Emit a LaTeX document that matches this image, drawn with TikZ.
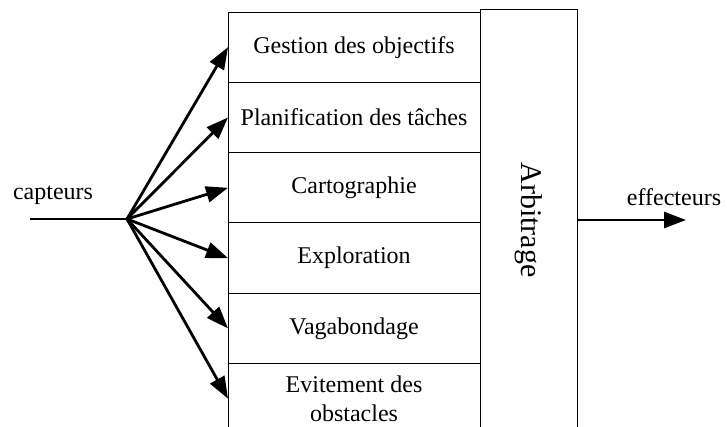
\documentclass[tikz,border=0pt]{standalone}
\usepackage{fontspec}
\setmainfont{Liberation Serif}
\usetikzlibrary{positioning,arrows.meta}
\tikzset{
    module/.style={rectangle, draw=black, line width=1pt, minimum width=252pt, minimum height=70.3pt, inner sep=0pt, outer sep=0pt, text centered, align=center, font=\fontsize{24}{29}\selectfont},
    arbiter/.style={rectangle, draw=black, line width=1pt, minimum width=97pt, minimum height=420pt, inner sep=0pt, outer sep=0pt, font=\fontsize{30}{36}\selectfont},
    iolabel/.style={inner sep=0pt, font=\fontsize{24}{29}\selectfont},
    arrow/.style={line width=2.8pt, -{Triangle[length=22pt,width=16pt]}},
}
\begin{document}
\begin{tikzpicture}[x=1pt,y=1pt]
  \useasboundingbox (0,0) rectangle (727,-427);

  % comportements
  \node[module] (g1) at (354,-47.2) {Gestion des objectifs};
  \node[module] (g2) [below=0pt of g1] {Planification des tâches};
  \node[module] (g3) [below=0pt of g2] {Cartographie};
  \node[module] (g4) [below=0pt of g3] {Exploration};
  \node[module] (g5) [below=0pt of g4] {Vagabondage};
  \node[module] (g6) [below=0pt of g5] {Evitement des\\obstacles};

  % arbitrage
  \node[arbiter] (arb) at (528.5,-220) {\rotatebox{-90}{Arbitrage}};

  % entrees / sorties
  \coordinate (src) at (30,-219);
  \coordinate (hub) at (127,-219);
  \coordinate (sink) at (686,-220);
  \node[iolabel] (capt) at (53,-195) {capteurs};
  \node[iolabel] (eff) at (674,-197) {effecteurs};

  \draw[line width=2.8pt] (src) -- (hub);
  \foreach \i in {1,...,6}
    \draw[arrow] (hub) -- (g\i.west);
  \draw[arrow] (arb.east) -- (sink);
\end{tikzpicture}
\end{document}
